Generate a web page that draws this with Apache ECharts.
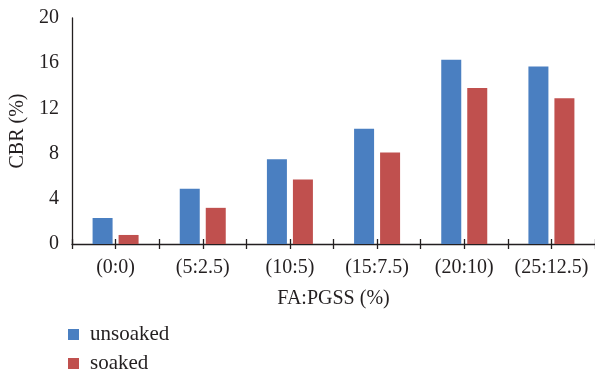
<!DOCTYPE html>
<html>
<head>
<meta charset="utf-8">
<script src="https://cdn.jsdelivr.net/npm/echarts@6/dist/echarts.min.js"></script>
<style>
  html, body { margin: 0; padding: 0; background: #fff; }
  #chart { width: 595px; height: 374px; }
</style>
</head>
<body>
<div id="chart"></div>
<script>
// Mix ratios (FA:PGSS, %) and CBR results
const categories = ['(0:0)', '(5:2.5)', '(10:5)', '(15:7.5)', '(20:10)', '(25:12.5)'];
const unsoaked = [2.3, 4.9, 7.5, 10.2, 16.3, 15.7];
const soaked = [0.8, 3.2, 5.7, 8.1, 13.8, 12.9];
const yTicks = { min: 0, max: 20, interval: 4 };

const FONT = 'Liberation Serif';
const TEXT = '#231f20';
const AXIS = '#231f20';

// Hidden value axis used only to draw tick marks at category edges and centres
function tickAxis(inside) {
  return {
    type: 'value', position: 'bottom', offset: 0,
    min: 0, max: categories.length, interval: 0.5,
    axisLine: { show: false },
    axisLabel: { show: false },
    splitLine: { show: false },
    axisTick: { show: true, inside: inside, length: 5, lineStyle: { color: AXIS, width: 1.3 } }
  };
}

const chart = echarts.init(document.getElementById('chart'), null, { renderer: 'canvas' });
chart.setOption({
  animation: false,
  textStyle: { fontFamily: FONT, color: TEXT },
  grid: { left: 72, top: 18, width: 528, height: 226, containLabel: false },
  legend: {
    orient: 'vertical', left: 68, top: 324, height: 70, padding: 0,
    itemWidth: 11, itemHeight: 11, itemGap: 8,
    icon: 'rect',
    textStyle: { fontFamily: FONT, fontSize: 21, color: TEXT, padding: [0, 0, 0, 6] },
    data: ['unsoaked', 'soaked']
  },
  xAxis: [
    {
      type: 'category', data: categories, position: 'bottom',
      name: 'FA:PGSS (%)', nameLocation: 'middle', nameGap: 45,
      nameTextStyle: { fontFamily: FONT, fontSize: 20, color: TEXT },
      axisLine: { show: true, lineStyle: { color: AXIS, width: 1.3 } },
      axisTick: { show: false },
      axisLabel: { fontFamily: FONT, fontSize: 20, color: TEXT, margin: 14, interval: 0, hideOverlap: false },
      splitLine: { show: false }
    },
    tickAxis(true),
    tickAxis(false)
  ],
  yAxis: {
    type: 'value', min: yTicks.min, max: yTicks.max, interval: yTicks.interval,
    name: 'CBR (%)', nameLocation: 'middle', nameGap: 38, nameRotate: 90,
    nameTextStyle: { fontFamily: FONT, fontSize: 20, color: TEXT },
    axisLine: { show: true, lineStyle: { color: AXIS, width: 1.3 } },
    axisTick: { show: false },
    axisLabel: { fontFamily: FONT, fontSize: 20, color: TEXT, margin: 13 },
    splitLine: { show: false }
  },
  series: [
    {
      name: 'unsoaked', type: 'bar', data: unsoaked, xAxisIndex: 0,
      barWidth: 20, barGap: '30%',
      itemStyle: { color: '#4a7fc1' }
    },
    {
      name: 'soaked', type: 'bar', data: soaked, xAxisIndex: 0,
      barWidth: 20, barGap: '30%',
      itemStyle: { color: '#c0504e' }
    }
  ]
});
</script>
</body>
</html>
